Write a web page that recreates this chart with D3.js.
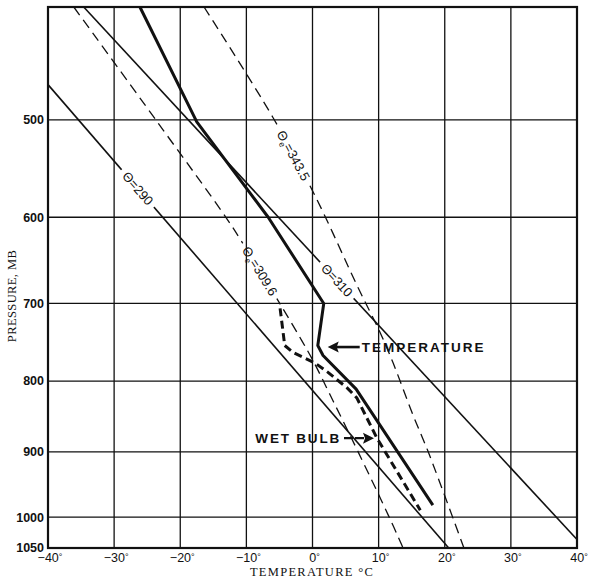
<!DOCTYPE html>
<html><head><meta charset="utf-8">
<script src="https://cdn.jsdelivr.net/npm/d3@7/dist/d3.min.js"></script>
<style>body{margin:0;background:#fff}svg{display:block}</style>
</head><body>
<svg id="c" width="599" height="579"></svg>
<script>
// ---- data (temperature °C, pressure mb) ----
const tempTicks = [-40,-30,-20,-10,0,10,20,30,40];
const tempTickLabels = ["\u221240","\u221230","\u221220","\u221210","0","10","20","30","40"];
const pressTicks = [500,600,700,800,900,1000,1050];
const pressTickLabels = ["500","600","700","800","900","1000","1050"];
const temperature = [[-26.1,400],[-17.5,502],[-6.7,600],[1.7,700],[0.8,753],[1.6,766],[6.6,811],[18.2,981]];
const wetBulb = [[-4.9,706],[-4.2,753],[-2.95,762],[0.4,776],[2.3,788],[5.2,809],[6.7,823],[9.75,880],[16.3,989]];
const theta290 = [[-40,467],[20.6,1050]];
const theta310 = [[-34.6,400],[40,1036]];
const thetaE309 = [[-36.1,400],[-23.7,500],[-13.1,600],[-10.8,626],[-4.5,706],[-1.6,747],[0.1,773],[3.1,827],[6.9,900],[11.6,1000],[13.7,1050]];
const thetaE343 = [[-16.4,400],[-6.05,497],[0.4,577],[6.9,681],[10.1,734],[12.2,776],[15.2,847],[17.5,900],[22.9,1050]];
const curveLabels = [
  {pts: theta290, p: 569, main: "\u0398", sub: "", rest: "=290"},
  {pts: thetaE309, p: 661, main: "\u0398", sub: "e", rest: "=309.6"},
  {pts: thetaE343, p: 535, main: "\u0398", sub: "e", rest: "=343.5"},
  {pts: theta310, p: 672, main: "\u0398", sub: "", rest: "=310"}
];

const svg = d3.select('#c');
const x = d3.scaleLinear().domain([-40,40]).range([48,577]);
const y = d3.scalePow().exponent(0.27).domain([400,1050]).range([7,548]);
const straight = d3.line().x(d=>x(d[0])).y(d=>y(d[1]));
const smooth = d3.line().x(d=>x(d[0])).y(d=>y(d[1])).curve(d3.curveCatmullRom.alpha(0.5));

const gCurves = svg.append('g');
[theta290, theta310].forEach(pts=>{
  gCurves.append('path').attr('d', straight(pts)).attr('fill','none')
    .attr('stroke','#111').attr('stroke-width',1.6);
});
[thetaE309, thetaE343].forEach(pts=>{
  gCurves.append('path').attr('d', smooth(pts)).attr('fill','none')
    .attr('stroke','#111').attr('stroke-width',1.3).attr('stroke-dasharray','10,6');
});
gCurves.append('path').attr('d', straight(temperature)).attr('fill','none')
  .attr('stroke','#111').attr('stroke-width',3).attr('stroke-linejoin','round');
gCurves.append('path').attr('d', straight(wetBulb)).attr('fill','none')
  .attr('stroke','#111').attr('stroke-width',3).attr('stroke-dasharray','8,4.5');

function placeOn(pts, p){
  const sp = pts.map(d=>[x(d[0]), y(d[1])]);
  const yy = y(p);
  for(let i=0;i<sp.length-1;i++){
    const a=sp[i], b=sp[i+1];
    if(yy>=a[1] && yy<=b[1]){
      const t=(yy-a[1])/(b[1]-a[1]);
      return {x:a[0]+t*(b[0]-a[0]), y:yy, ang:Math.atan2(b[1]-a[1], b[0]-a[0])*180/Math.PI};
    }
  }
  return {x:sp[0][0], y:sp[0][1], ang:45};
}

// grid
const gGrid = svg.append('g').attr('stroke','#111').attr('stroke-width',1.3);
tempTicks.slice(1,-1).forEach(t=>{
  gGrid.append('line').attr('x1',x(t)).attr('x2',x(t)).attr('y1',y(400)).attr('y2',y(1050));
});
pressTicks.slice(0,-1).forEach(p=>{
  gGrid.append('line').attr('x1',x(-40)).attr('x2',x(40)).attr('y1',y(p)).attr('y2',y(p));
});
svg.append('rect').attr('x',x(-40)).attr('y',y(400)).attr('width',x(40)-x(-40)).attr('height',y(1050)-y(400))
  .attr('fill','none').attr('stroke','#111').attr('stroke-width',2.2);

// curve labels: white gap in the curve, text on top
const gLab = svg.append('g');
curveLabels.forEach(l=>{
  const pos = placeOn(l.pts, l.p);
  const g = gLab.append('g').attr('transform',`translate(${pos.x},${pos.y}) rotate(${pos.ang})`);
  const t = g.append('text').attr('font-family','Liberation Sans, Arial, sans-serif')
    .attr('font-size',13).attr('text-anchor','middle').attr('dy','0.35em').attr('fill','#111');
  t.append('tspan').text(l.main);
  if(l.sub) t.append('tspan').text(l.sub).attr('font-size',8.5).attr('dy','3');
  t.append('tspan').text(l.rest).attr('dy', l.sub ? '-3' : null);
  const w = t.node().getComputedTextLength();
  gCurves.append('rect').attr('transform',`translate(${pos.x},${pos.y}) rotate(${pos.ang})`)
    .attr('x',-w/2-5).attr('y',-4.5).attr('width',w+10).attr('height',9).attr('fill','#fff');
});

// tick labels
const tickFont = 'Liberation Sans, Arial, sans-serif';
pressTicks.forEach((p,i)=>{
  svg.append('text').attr('x',44).attr('y',y(p)).attr('dy','0.35em').attr('text-anchor','end')
    .attr('font-family',tickFont).attr('font-size',12.5).attr('font-weight','bold').attr('fill','#111')
    .text(pressTickLabels[i]);
});
tempTicks.forEach((t,i)=>{
  const tx = svg.append('text').attr('x',x(t)+2).attr('y',562).attr('text-anchor','middle')
    .attr('font-family',tickFont).attr('font-size',12.5).attr('fill','#111');
  tx.append('tspan').text(tempTickLabels[i]);
  tx.append('tspan').text('\u00b0').attr('font-size',9).attr('dy','-2');
});

// axis titles
svg.append('text').attr('transform',`translate(16,296) rotate(-90)`).attr('text-anchor','middle')
  .attr('font-family','Liberation Serif, Times New Roman, serif').attr('font-size',12.5)
  .attr('letter-spacing',0.4).attr('fill','#111').text('PRESSURE, MB');
svg.append('text').attr('x',312).attr('y',576).attr('text-anchor','middle')
  .attr('font-family','Liberation Serif, Times New Roman, serif').attr('font-size',12.5)
  .attr('letter-spacing',1.3).attr('fill','#111').text('TEMPERATURE \u00b0C');

// annotations
const annFont = 'Liberation Sans, Arial, sans-serif';
(function(){
  const tipX = x(2.3), yy = y(755);
  svg.append('path').attr('d',`M${tipX},${yy} L${tipX+11},${yy-5.5} L${tipX+9},${yy} L${tipX+11},${yy+5.5} Z`).attr('fill','#111');
  svg.append('line').attr('x1',tipX+8).attr('x2',tipX+32).attr('y1',yy).attr('y2',yy)
    .attr('stroke','#111').attr('stroke-width',2.6);
  svg.append('text').attr('x',tipX+34).attr('y',yy).attr('dy','0.36em')
    .attr('font-family',annFont).attr('font-size',13.5).attr('font-weight','bold')
    .attr('letter-spacing',2).attr('fill','#111').text('TEMPERATURE');
})();
(function(){
  const tipX = x(9.3), yy = y(880);
  svg.append('path').attr('d',`M${tipX},${yy} L${tipX-11},${yy-5.5} L${tipX-9},${yy} L${tipX-11},${yy+5.5} Z`).attr('fill','#111');
  svg.append('line').attr('x1',tipX-30).attr('x2',tipX-8).attr('y1',yy).attr('y2',yy)
    .attr('stroke','#111').attr('stroke-width',2.4).attr('stroke-dasharray','9,2');
  svg.append('text').attr('x',tipX-33).attr('y',yy).attr('dy','0.36em').attr('text-anchor','end')
    .attr('font-family',annFont).attr('font-size',13.5).attr('font-weight','bold')
    .attr('letter-spacing',1.8).attr('fill','#111').text('WET BULB');
})();
</script>
</body></html>
